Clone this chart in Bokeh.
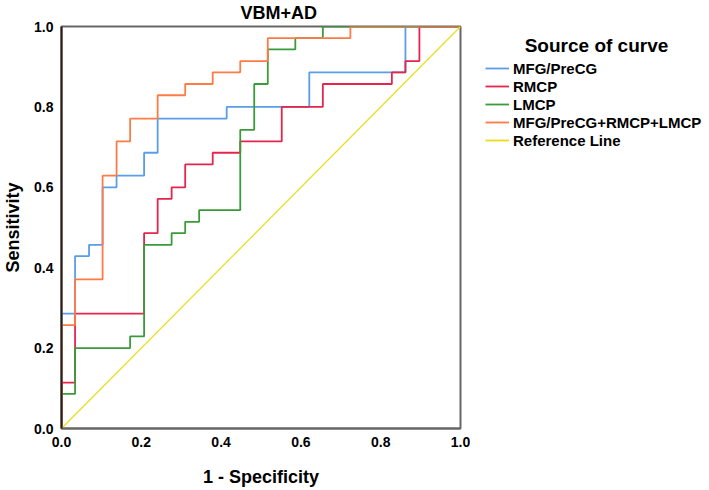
from bokeh.plotting import figure
from bokeh.layouts import row
from bokeh.models import Range1d, FixedTicker, Legend, LegendItem, Label
from bokeh.embed import file_html
from bokeh.resources import INLINE

# ---- data (ROC step corners) ----
series_names = ["MFG/PreCG", "RMCP", "LMCP", "MFG/PreCG+RMCP+LMCP", "Reference Line"]

mfg_fpr = [0.0, 0.0, 0.034, 0.069, 0.103, 0.138, 0.207, 0.241, 0.414, 0.621, 0.862, 1.0]
mfg_tpr = [0.0, 0.286, 0.429, 0.457, 0.600, 0.629, 0.686, 0.771, 0.800, 0.886, 1.000, 1.000]

rmcp_fpr = [0.0, 0.0, 0.034, 0.207, 0.241, 0.276, 0.310, 0.379, 0.448, 0.552, 0.655, 0.828, 0.862, 0.897, 1.0]
rmcp_tpr = [0.0, 0.114, 0.286, 0.486, 0.571, 0.600, 0.657, 0.686, 0.714, 0.800, 0.857, 0.886, 0.914, 1.000, 1.000]

lmcp_fpr = [0.0, 0.0, 0.034, 0.172, 0.207, 0.276, 0.310, 0.345, 0.448, 0.483, 0.517, 0.586, 0.655, 1.0]
lmcp_tpr = [0.0, 0.086, 0.200, 0.229, 0.457, 0.486, 0.514, 0.543, 0.743, 0.857, 0.943, 0.971, 1.000, 1.000]

comb_fpr = [0.0, 0.0, 0.034, 0.103, 0.138, 0.172, 0.241, 0.310, 0.379, 0.448, 0.517, 0.724, 1.0]
comb_tpr = [0.0, 0.257, 0.371, 0.629, 0.714, 0.771, 0.829, 0.857, 0.886, 0.914, 0.971, 1.000, 1.000]

ref_x = [0.0, 1.0]
ref_y = [0.0, 1.0]

tick_values = [0.0, 0.2, 0.4, 0.6, 0.8, 1.0]
tick_labels = ["0.0", "0.2", "0.4", "0.6", "0.8", "1.0"]

chart_title = "VBM+AD"
legend_title = "Source of curve"
x_label = "1 - Specificity"
y_label = "Sensitivity"

colors = ["#5a9de8", "#e5254c", "#3a9b3a", "#ff7b45", "#ebdc1a"]
FONT = "Liberation Sans"

series = [(mfg_fpr, mfg_tpr), (rmcp_fpr, rmcp_tpr), (lmcp_fpr, lmcp_tpr), (comb_fpr, comb_tpr)]

# ---- main ROC plot ----
p = figure(width=470, height=490, output_backend="svg", toolbar_location=None,
           x_range=Range1d(0, 1), y_range=Range1d(0, 1),
           min_border_left=60, min_border_right=10, min_border_top=26, min_border_bottom=62)
p.background_fill_color = "white"
p.border_fill_color = "white"
p.grid.visible = False
p.outline_line_color = "#666666"
p.outline_line_width = 2

p.title.text = chart_title
p.title.align = "left"
p.title.offset = 179
p.title.vertical_align = "top"
p.title.text_font = FONT
p.title.text_font_style = "bold"
p.title.text_font_size = "18px"
p.title.text_color = "black"
p.title.standoff = 4
p.title.text_line_height = 0.9

for (fx, ty), c in zip(series, colors[:4]):
    p.step(fx, ty, mode="after", line_color=c, line_width=1.8)
p.line(ref_x, ref_y, line_color=colors[4], line_width=1.2)

for ax in (p.xaxis[0], p.yaxis[0]):
    ax.ticker = FixedTicker(ticks=tick_values)
    ax.major_label_overrides = {v: l for v, l in zip(tick_values, tick_labels)}
    ax.major_tick_line_color = None
    ax.minor_tick_line_color = None
    ax.major_label_text_font = FONT
    ax.major_label_text_font_style = "bold"
    ax.major_label_text_font_size = "14px"
    ax.major_label_text_color = "black"
    ax.axis_label_text_font = FONT
    ax.axis_label_text_font_style = "bold"
    ax.axis_label_text_font_size = "18px"
    ax.axis_label_text_color = "black"
    ax.axis_line_width = 2

p.xaxis.axis_label = x_label
p.yaxis.axis_label = y_label
p.xaxis.axis_line_color = "#666666"
p.yaxis.axis_line_color = "#2b1d16"
p.xaxis.major_label_standoff = 2
p.yaxis.major_label_standoff = 2
p.xaxis.axis_label_standoff = 17
p.yaxis.axis_label_standoff = 8

# ---- legend panel (its frame is aligned with the ROC frame by the row layout) ----
q = figure(width=239, height=490, output_backend="svg", toolbar_location=None,
           x_range=Range1d(-3, -2), y_range=Range1d(-3, -2),
           x_axis_type=None, y_axis_type=None,
           min_border_left=0, min_border_right=0, min_border_top=0, min_border_bottom=0)
q.outline_line_color = None
q.background_fill_color = "white"
q.border_fill_color = "white"
q.grid.visible = False

# same series drawn out of view; they only supply the legend swatches
legend_renderers = [q.step(fx, ty, mode="after", line_color=c, line_width=1.8)
                    for (fx, ty), c in zip(series, colors[:4])]
legend_renderers.append(q.line(ref_x, ref_y, line_color=colors[4], line_width=1.8))

q.add_layout(Label(x=126, y=383, x_units="screen", y_units="screen", text=legend_title,
                   text_font=FONT, text_font_style="bold", text_font_size="19px",
                   text_align="center", text_baseline="middle", text_color="black"))

legend = Legend(items=[LegendItem(label=n, renderers=[r]) for n, r in zip(series_names, legend_renderers)],
                location=(15, 279), padding=0, margin=0, spacing=0,
                glyph_width=24, glyph_height=18, label_height=18, label_standoff=4,
                border_line_color=None, background_fill_alpha=0,
                label_text_font=FONT, label_text_font_style="bold", label_text_font_size="15px",
                label_text_color="black")
q.add_layout(legend, "center")

layout = row(p, q)
open("out.html", "w").write(file_html(layout, INLINE))
